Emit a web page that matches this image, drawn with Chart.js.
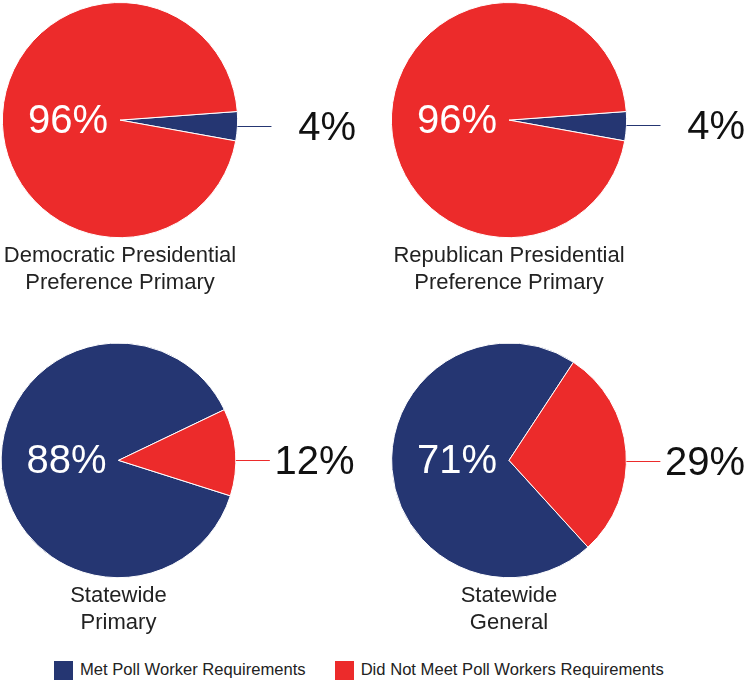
<!DOCTYPE html>
<html>
<head>
<meta charset="utf-8">
<title>Poll Worker Requirements</title>
<script src="https://cdn.jsdelivr.net/npm/chart.js@4/dist/chart.umd.min.js"></script>
<style>
  html, body { margin: 0; padding: 0; background: #fff; }
  #wrap { position: relative; width: 750px; height: 681px; overflow: hidden; }
  #wrap canvas { position: absolute; }
  #legend { position: absolute; left: 54px; top: 660px; display: flex; align-items: center;
            font-family: 'Liberation Sans', Arial, sans-serif; font-size: 16.6px; color: #222; }
  #legend .item { display: flex; align-items: center; margin-right: 29px; }
  #legend .box { width: 19px; height: 19px; margin-right: 7px; }
</style>
</head>
<body>
<div id="wrap">
  <canvas id="pie0" width="375" height="300" style="left:0;top:0"></canvas>
  <canvas id="pie1" width="375" height="300" style="left:375px;top:0"></canvas>
  <canvas id="pie2" width="375" height="300" style="left:0;top:340px"></canvas>
  <canvas id="pie3" width="375" height="300" style="left:375px;top:340px"></canvas>
  <div id="legend"></div>
</div>
<script>
// elections and their share of polling places
var chartTitles = [
  ["Democratic Presidential", "Preference Primary"],
  ["Republican Presidential", "Preference Primary"],
  ["Statewide", "Primary"],
  ["Statewide", "General"]
];
var seriesLabels = ["Met Poll Worker Requirements", "Did Not Meet Poll Workers Requirements"];
var metValues = [4, 4, 88, 71];
var notMetValues = [96, 96, 12, 29];
var seriesColors = ["#253672", "#EC2B2B"];

// where each pie sits on the page, and the angle the small slice points to
var pieLayout = [
  { left: 0,   top: 0,   cx: 120,   cy: 120.5, mid: 3,    leaderDy: 6 },
  { left: 375, top: 0,   cx: 509,   cy: 120.5, mid: 3,    leaderDy: 5 },
  { left: 0,   top: 340, cx: 118.5, cy: 461,   mid: -4,   leaderDy: 0 },
  { left: 375, top: 340, cx: 509,   cy: 461,   mid: -4.5, leaderDy: 1 }
];
var DIAM = 237;

Chart.defaults.font.family = "'Liberation Sans', Arial, sans-serif";

// percent labels: big one inside the pie, small one outside with a leader line
var pctLabels = {
  id: "pctLabels",
  afterDatasetsDraw: function(chart, args, opts) {
    var ctx = chart.ctx;
    var values = chart.data.datasets[0].data;
    var colors = chart.data.datasets[0].backgroundColor;
    var arc = chart.getDatasetMeta(0).data[0];
    var cx = arc.x, cy = arc.y, r = arc.outerRadius;
    var big = values[0] >= values[1] ? 0 : 1;
    var small = 1 - big;

    ctx.save();
    ctx.font = "40px 'Liberation Sans', Arial, sans-serif";
    ctx.textBaseline = "middle";
    ctx.textAlign = "right";
    ctx.fillStyle = "#ffffff";
    ctx.fillText(values[big] + "%", cx - 12, cy + 2);

    var ly = Math.round(cy + opts.leaderDy) + 0.5;
    var lx = cx + Math.sqrt(r * r - opts.leaderDy * opts.leaderDy);
    ctx.strokeStyle = colors[small];
    ctx.lineWidth = 1.2;
    ctx.beginPath();
    ctx.moveTo(lx, ly);
    ctx.lineTo(lx + 34, ly);
    ctx.stroke();

    ctx.fillStyle = "#111111";
    ctx.fillText(values[small] + "%", cx + 236, ly + 2);
    ctx.restore();
  }
};

for (var i = 0; i < metValues.length; i++) {
  var p = pieLayout[i];
  var met = metValues[i], notMet = notMetValues[i];
  // turn the pie so the smaller slice is centred on p.mid degrees (0 = 3 o'clock)
  var start;
  if (met < notMet) {
    start = p.mid - met * 3.6 / 2;
  } else {
    start = p.mid - notMet * 3.6 / 2 - met * 3.6;
  }
  var padLeft = p.cx - p.left - DIAM / 2;
  var padTop = p.cy - p.top - DIAM / 2;

  new Chart(document.getElementById("pie" + i), {
    type: "pie",
    data: {
      labels: seriesLabels,
      datasets: [{
        data: [met, notMet],
        backgroundColor: seriesColors,
        borderColor: "#ffffff",
        borderWidth: 1
      }]
    },
    options: {
      responsive: false,
      animation: false,
      rotation: start + 90,
      layout: {
        padding: { left: padLeft, top: padTop, right: 375 - padLeft - DIAM, bottom: 4 }
      },
      plugins: {
        legend: { display: false },
        tooltip: { enabled: false },
        title: {
          display: true,
          position: "bottom",
          text: chartTitles[i],
          color: "#222222",
          font: { size: 22, weight: "normal", lineHeight: 1.2 },
          padding: { top: 5, bottom: 0 }
        },
        pctLabels: { leaderDy: p.leaderDy }
      }
    },
    plugins: [pctLabels]
  });
}

// legend row under the pies
var legend = document.getElementById("legend");
seriesLabels.forEach(function(lbl, k) {
  var item = document.createElement("div");
  item.className = "item";
  var box = document.createElement("span");
  box.className = "box";
  box.style.background = seriesColors[k];
  var txt = document.createElement("span");
  txt.textContent = lbl;
  item.appendChild(box);
  item.appendChild(txt);
  legend.appendChild(item);
});
</script>
</body>
</html>
